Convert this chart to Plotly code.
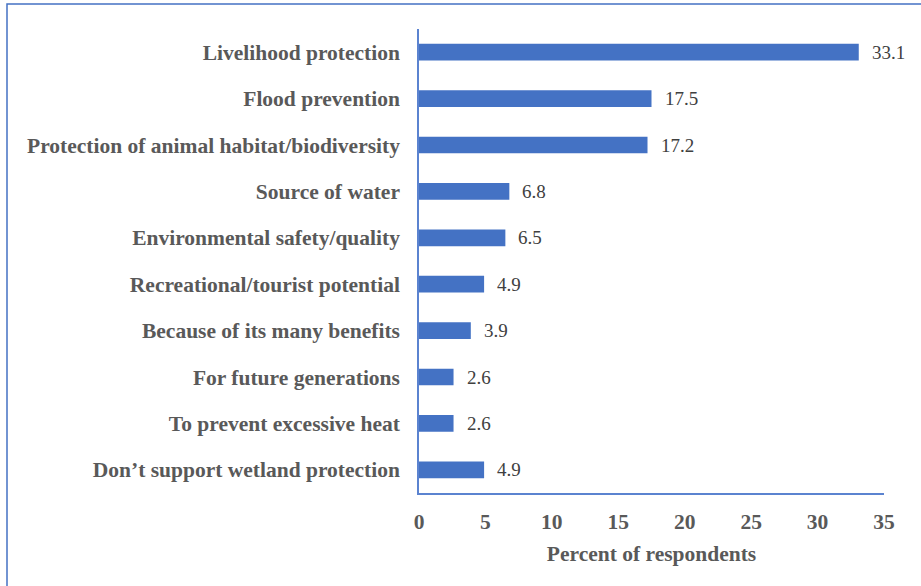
import plotly.graph_objects as go

# Reasons given for supporting wetland protection (percent of respondents)
reasons = [
    "Livelihood protection",
    "Flood prevention",
    "Protection of animal habitat/biodiversity",
    "Source of water",
    "Environmental safety/quality",
    "Recreational/tourist potential",
    "Because of its many benefits",
    "For future generations",
    "To prevent excessive heat",
    "Don\u2019t support wetland protection",
]
percent = [33.1, 17.5, 17.2, 6.8, 6.5, 4.9, 3.9, 2.6, 2.6, 4.9]
x_ticks = [0, 5, 10, 15, 20, 25, 30, 35]

BAR = "#4472C4"
AXIS = "#5B83D0"
TEXT = "#595959"
FONT = "'Times New Roman', 'Liberation Serif', serif"
BOLD_SIZE = 21.5

W, H = 921, 586
L, R, T, B = 419, 37, 29, 93

fig = go.Figure()
fig.add_trace(go.Bar(
    x=percent,
    y=reasons,
    orientation="h",
    width=0.36,
    marker=dict(color=BAR, line=dict(width=0)),
    hoverinfo="x+y",
))

# value labels next to each bar
for r, v in zip(reasons, percent):
    fig.add_annotation(
        x=v, y=r, xref="x", yref="y",
        text=f"{v:.1f}", showarrow=False,
        xanchor="left", xshift=11,
        font=dict(family=FONT, size=19, color="#404040"),
    )

# outer frame around the chart
pw, ph = W - L - R, H - T - B
fig.add_shape(
    type="rect", xref="paper", yref="paper",
    x0=(7 - L) / pw, x1=1 + (R + 10) / pw,
    y0=-(B + 10) / ph, y1=1 + (T - 4) / ph,
    line=dict(color="#4472C4", width=1.5),
    fillcolor="rgba(0,0,0,0)",
    layer="below",
)

fig.update_layout(
    width=W, height=H,
    margin=dict(l=L, r=R, t=T, b=B),
    paper_bgcolor="white",
    plot_bgcolor="white",
    showlegend=False,
    bargap=0.64,
    font=dict(family=FONT),
    xaxis=dict(
        range=[0, 35],
        tickvals=x_ticks,
        ticktext=[str(t) for t in x_ticks],
        showgrid=False,
        zeroline=False,
        showline=True,
        linecolor=AXIS,
        linewidth=1.5,
        ticks="",
        ticklabelstandoff=8,
        tickfont=dict(family=FONT, size=BOLD_SIZE, color=TEXT, weight="bold"),
        title=dict(
            text="Percent of respondents",
            font=dict(family=FONT, size=BOLD_SIZE, color=TEXT, weight="bold"),
            standoff=13,
        ),
        fixedrange=True,
    ),
    yaxis=dict(
        categoryorder="array",
        categoryarray=reasons[::-1],
        showgrid=False,
        zeroline=False,
        showline=True,
        linecolor=AXIS,
        linewidth=1.5,
        ticks="",
        ticklabelstandoff=13,
        tickfont=dict(family=FONT, size=BOLD_SIZE, color=TEXT, weight="bold"),
        fixedrange=True,
    ),
)

fig.write_html("out.html")
